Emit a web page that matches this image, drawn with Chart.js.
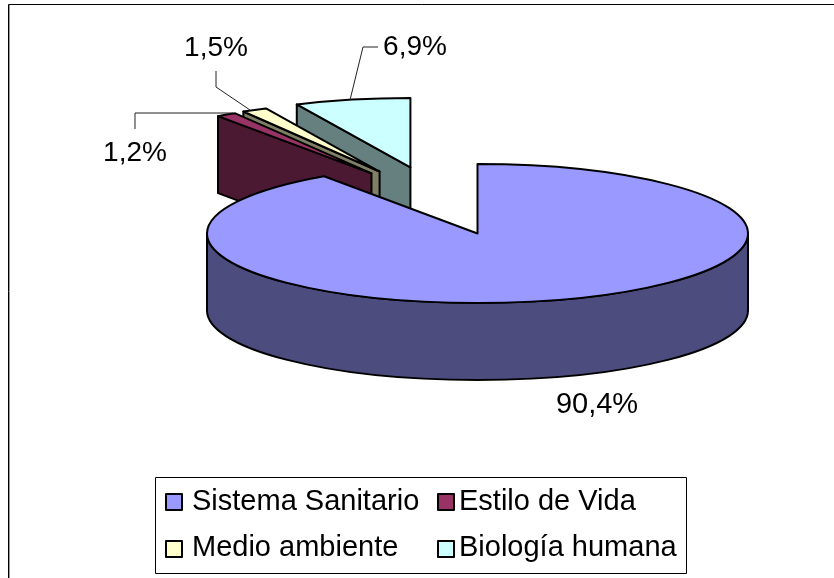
<!DOCTYPE html>
<html>
<head>
<meta charset="utf-8">
<style>html,body{margin:0;padding:0;background:#fff}canvas{display:block}</style>
<script src="https://cdn.jsdelivr.net/npm/chart.js@4"></script>
</head>
<body>
<canvas id="c" width="834" height="578"></canvas>
<script>
const categories = ['Sistema Sanitario', 'Estilo de Vida', 'Medio ambiente', 'Biología humana'];
const values = [90.4, 1.2, 1.5, 6.9];
const topColors = ['#9999FF', '#993366', '#FFFFCC', '#CCFFFF'];
const wallColors = ['#4C4C7F', '#4C1933', '#7F7F66', '#667F7F'];

const view = {cx: 477.5, cy: 233.5, rx: 270.5, ry: 69.5, depth: 77};
// Screen shift of each exploded slice, as a fraction of the ellipse radii.
const explodeX = [0, -0.392, -0.362, -0.248];
const explodeY = [0, -0.865, -0.892, -0.95];
// Draw back to front.
const drawOrder = [3, 2, 1, 0];
const labelSpots = [
  {x: 597, y: 405, size: 29, line: []},
  {x: 135, y: 153, size: 28, line: [[233, 113], [135, 113], [135, 129]]},
  {x: 216, y: 48, size: 28, line: [[250, 110], [216, 87], [216, 71]]},
  {x: 415, y: 47, size: 28, line: [[350, 100], [363, 47], [378, 47]]}
];
const legendSpots = [
  {sx: 166, sy: 494, tx: 192, base: 510},
  {sx: 438, sy: 494, tx: 459, base: 510},
  {sx: 166, sy: 541, tx: 192, base: 556},
  {sx: 438, sy: 541, tx: 459, base: 556}
];

const pie3d = {
  id: 'pie3d',
  beforeDatasetsDraw(chart) {
    const ctx = chart.ctx;
    const arcs = chart.getDatasetMeta(0).data;
    const v = view;
    ctx.save();
    ctx.fillStyle = '#fff';
    ctx.fillRect(0, 0, chart.width, chart.height);
    // chart frame
    ctx.lineWidth = 1;
    ctx.strokeStyle = '#000';
    ctx.beginPath(); ctx.moveTo(8.5, 578); ctx.lineTo(8.5, 4.5); ctx.lineTo(834, 4.5); ctx.stroke();
    ctx.strokeStyle = '#999';
    ctx.beginPath(); ctx.moveTo(9.5, 5); ctx.lineTo(9.5, 578); ctx.stroke();

    ctx.lineJoin = 'round';
    ctx.lineWidth = 2;
    ctx.strokeStyle = '#000';
    drawOrder.forEach(i => {
      const el = arcs[i];
      const R = el.outerRadius;
      const sx = v.rx / R, sy = v.ry / R;
      const ox = v.cx + explodeX[i] * v.rx;
      const oy = v.cy + explodeY[i] * v.ry;
      const tx = ox - el.x * sx, ty = oy - el.y * sy;
      const path = (dz, fn) => {
        ctx.setTransform(sx, 0, 0, sy, tx, ty + dz);
        fn();
        ctx.setTransform(1, 0, 0, 1, 0, 0);
      };
      const rimX = a => ox + Math.cos(a) * v.rx;
      const rimY = a => oy + Math.sin(a) * v.ry;
      // side wall: edge at the slice's start
      if (i !== 0) {
        ctx.beginPath();
        ctx.moveTo(ox, oy);
        ctx.lineTo(rimX(el.startAngle), rimY(el.startAngle));
        ctx.lineTo(rimX(el.startAngle), rimY(el.startAngle) + v.depth);
        ctx.lineTo(ox, oy + v.depth);
        ctx.closePath();
        ctx.fillStyle = wallColors[i];
        ctx.fill(); ctx.stroke();
      } else {
        // outer rim wall over the front half of the ellipse
        ctx.beginPath();
        path(0, () => ctx.arc(el.x, el.y, R, 0, Math.PI));
        path(v.depth, () => ctx.arc(el.x, el.y, R, Math.PI, 0, true));
        ctx.closePath();
        ctx.fillStyle = wallColors[i];
        ctx.fill(); ctx.stroke();
      }
      // top face
      ctx.beginPath();
      path(0, () => {
        ctx.moveTo(el.x, el.y);
        ctx.arc(el.x, el.y, R, el.startAngle, el.endAngle);
        ctx.closePath();
      });
      ctx.fillStyle = topColors[i];
      ctx.fill(); ctx.stroke();
    });

    // leader lines and value labels
    ctx.textAlign = 'center';
    ctx.textBaseline = 'middle';
    labelSpots.forEach((s, i) => {
      if (s.line.length) {
        ctx.lineWidth = 1;
        ctx.strokeStyle = '#222';
        ctx.beginPath();
        s.line.forEach((p, k) => k ? ctx.lineTo(p[0], p[1]) : ctx.moveTo(p[0], p[1]));
        ctx.stroke();
      }
      ctx.fillStyle = '#000';
      ctx.font = s.size + 'px "Liberation Sans"';
      ctx.fillText(values[i].toFixed(1).replace('.', ',') + '%', s.x, s.y);
    });

    // legend
    ctx.lineWidth = 1;
    ctx.strokeStyle = '#000';
    ctx.strokeRect(155.5, 477.5, 531, 96);
    ctx.textAlign = 'left';
    ctx.textBaseline = 'alphabetic';
    ctx.font = '29px "Liberation Sans"';
    legendSpots.forEach((s, i) => {
      ctx.fillStyle = topColors[i];
      ctx.lineWidth = 2;
      ctx.fillRect(s.sx, s.sy, 16, 16);
      ctx.strokeRect(s.sx, s.sy, 16, 16);
      ctx.fillStyle = '#000';
      ctx.fillText(categories[i], s.tx, s.base);
    });
    ctx.restore();
    return false;
  }
};

new Chart(document.getElementById('c'), {
  type: 'pie',
  data: {
    labels: categories,
    datasets: [{data: values, backgroundColor: topColors, borderColor: '#000', borderWidth: 2}]
  },
  options: {
    responsive: false,
    animation: false,
    plugins: {legend: {display: false}, tooltip: {enabled: false}}
  },
  plugins: [pie3d]
});
</script>
</body>
</html>
